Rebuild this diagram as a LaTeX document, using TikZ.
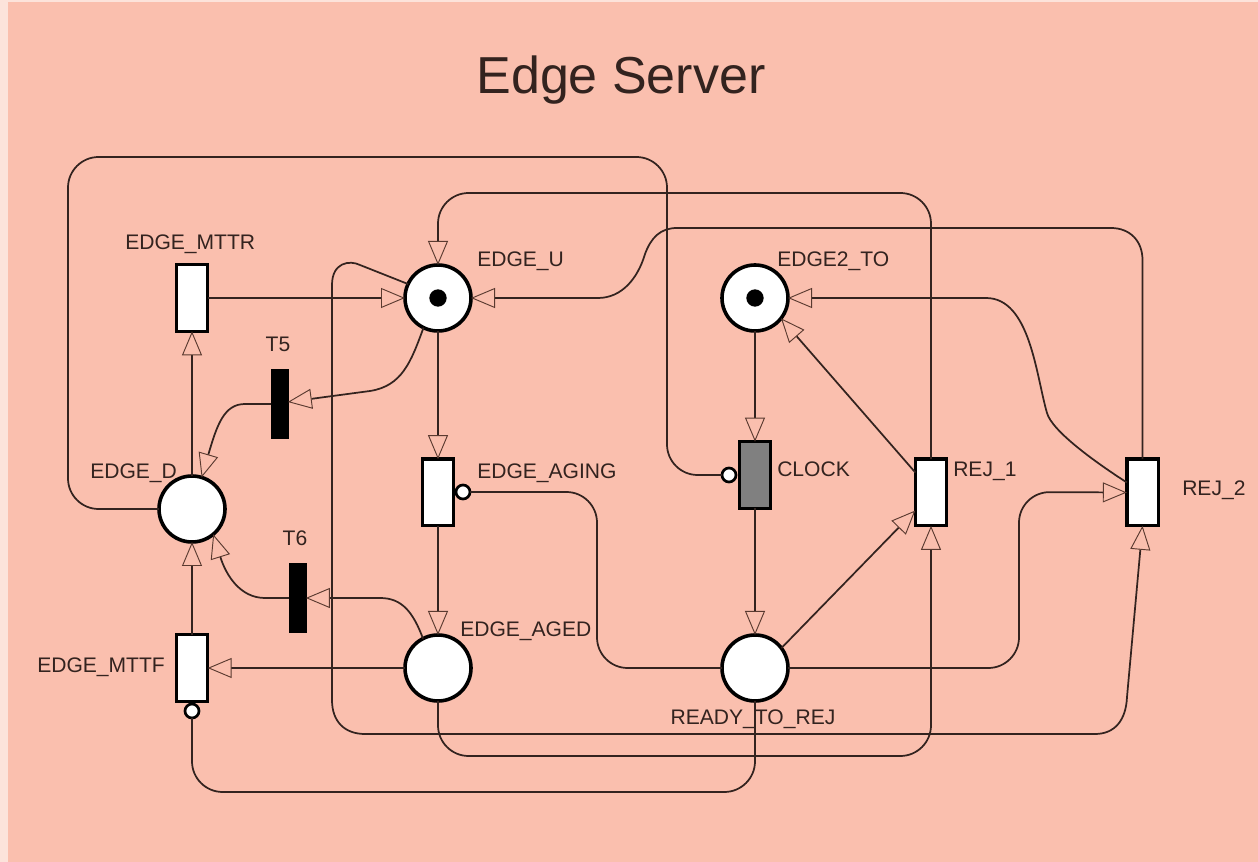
\documentclass[tikz,border=0pt]{standalone}
\usepackage{fontspec}
\setmainfont{Liberation Sans}
\usetikzlibrary{arrows.meta,calc}
\definecolor{bgpink}{HTML}{FABFAE}
\definecolor{stripe}{HTML}{FCE3DB}
\definecolor{inkc}{HTML}{33231F}
\definecolor{tipc}{HTML}{5A3A30}
\definecolor{clockgray}{HTML}{808080}
\tikzset{
  place/.style={circle,draw=black,fill=white,line width=2.7pt,minimum size=49.5pt,inner sep=0pt,outer sep=0pt},
  trans/.style={rectangle,draw=black,fill=white,line width=2.5pt,minimum width=23.5pt,minimum height=50pt,inner sep=0pt,outer sep=0pt},
  timed/.style={rectangle,draw=black,fill=black,line width=.5pt,minimum width=12.5pt,minimum height=52pt,inner sep=0pt,outer sep=0pt},
  inhib/.style={circle,draw=black,fill=white,line width=2pt,minimum size=10.5pt,inner sep=0pt,outer sep=0pt},
  tokendot/.style={circle,fill=black,minimum size=13pt,inner sep=0pt},
  arcline/.style={draw=inkc,line width=1.3pt},
  tipped/.style={arcline,-{Triangle[open,length=18pt,width=15pt,line width=.7pt,fill=bgpink,color=tipc]}},
  lbl/.style={text=inkc,font=\fontsize{15.8}{18}\selectfont,inner sep=0pt,anchor=west},
  lblc/.style={lbl,anchor=center},
  rcorner/.style={rounded corners=23pt}
}
\begin{document}
\begin{tikzpicture}[x=.75pt,y=-.75pt]
\useasboundingbox (0,0) rectangle (1258,862);
\fill[stripe] (0,0) rectangle (1258,862);
\fill[bgpink] (8,2) rectangle (1258,862);

% places
\node[place] (U) at (438,298) {};
\node[place] (TO) at (755,298) {};
\node[place] (D) at (192,509) {};
\node[place] (AGED) at (438,668) {};
\node[place] (READY) at (755,668) {};
\node[tokendot] (Utok) at (438,298) {};
\node[tokendot] (TOtok) at (755,298) {};
% transitions
\node[trans] (MTTR) at (192,298) {};
\node[trans] (MTTF) at (192,668) {};
\node[trans] (AGING) at (438,492.5) {};
\node[trans,fill=clockgray] (CLOCK) at (755,475) {};
\node[trans] (REJA) at (931,492.5) {};
\node[trans] (REJB) at (1142.5,492.5) {};
\node[timed] (T5) at (279.5,404) {};
\node[timed] (T6) at (297.5,598) {};
% inhibitor circles
\node[inhib] (iMTTF) at (192,711) {};
\node[inhib] (iAGING) at (463,492) {};
\node[inhib] (iCLOCK) at (729,475) {};

% straight arcs
\draw[tipped] (MTTR.east) -- (U.west);
\draw[tipped] (D.north) -- (MTTR.south);
\draw[tipped] (MTTF.north) -- (D.south);
\draw[tipped] (AGED.west) -- (MTTF.east);
\draw[tipped] (U.south) -- (AGING.north);
\draw[tipped] (AGING.south) -- (AGED.north);
\draw[tipped] (TO.south) -- (CLOCK.north);
\draw[tipped] (CLOCK.south) -- (READY.north);
\draw[tipped] (READY.37) -- ($(REJA.west)+(0,18)$);
\draw[tipped] ($(REJA.west)+(0,-20)$) -- (TO.-38);

% curved arcs
\draw[tipped] (U.-116) .. controls (411,362) and (402,386) .. (370,391) -- ($(T5.east)+(0,-2)$);
\draw[tipped] (T5.west) -- (245,404) .. controls (224,404) and (217,425) .. (D.73);
\draw[tipped] (T6.west) -- (265,598) .. controls (240,598) and (226,575) .. (D.-50);
\draw[tipped] (AGED.117) .. controls (413,612) and (402,598) .. (380,598) -- (T6.east);
\draw[tipped] ($(REJB.west)+(0,-10)$) .. controls (1095,462) and (1052,431) .. (1047,413)
   .. controls (1036,375) and (1030,298) .. (986,298) -- (TO.east);
\draw[tipped] (REJB.north) -- (1142.5,260) .. controls (1142.5,241) and (1130,228) .. (1111,228)
   -- (677,228) .. controls (660,228) and (651,238) .. (645,254)
   .. controls (638,278) and (622,298) .. (598,298) -- (U.east);
\draw[tipped,rcorner] (REJA.north) |- (438,193) -- (U.north);
\draw[arcline,rcorner] (READY.west) -| (597,492) -- (iAGING.east);
\draw[tipped,rcorner] (READY.east) -| (1019,492) -- (REJB.west);
\draw[arcline,rcorner] (D.west) -| (68,157) -| (667,475) -- (iCLOCK.west);
\draw[tipped,rcorner] (AGED.south) |- (931,756) -- (REJA.south);
\draw[arcline,rcorner] (READY.south) |- (192,792) -- (iMTTF.south);
\draw[tipped] (U.155) -- (360,265) .. controls (350,260) and (332,262) .. (332,285)
   -- (332,700) .. controls (332,722) and (345,734) .. (365,734)
   -- (1095,734) .. controls (1115,734) and (1126,720) .. (1127,697) -- (REJB.south);

% labels
\node[text=inkc,font=\fontsize{39}{44}\selectfont,inner sep=0pt] (title) at (621,80) {Edge Server};
\node[lbl] (lMTTR) at (125,244) {EDGE\_MTTR};
\node[lblc] (lT5) at (278,344) {T5};
\node[lbl] (lU) at (477,261) {EDGE\_U};
\node[lbl] (lTO) at (777,261) {EDGE2\_TO};
\node[lbl] (lD) at (90,473) {EDGE\_D};
\node[lbl] (lAGING) at (477,473) {EDGE\_AGING};
\node[lbl] (lCLOCK) at (777,469) {CLOCK};
\node[lbl] (lREJA) at (953,471) {REJ\_1};
\node[lbl] (lREJB) at (1182,490) {REJ\_2};
\node[lblc] (lT6) at (295,538) {T6};
\node[lbl] (lMTTF) at (37,667) {EDGE\_MTTF};
\node[lbl] (lAGED) at (460,631) {EDGE\_AGED};
\node[lblc] (lREADY) at (753,719) {READY\_TO\_REJ};
\end{tikzpicture}
\end{document}
